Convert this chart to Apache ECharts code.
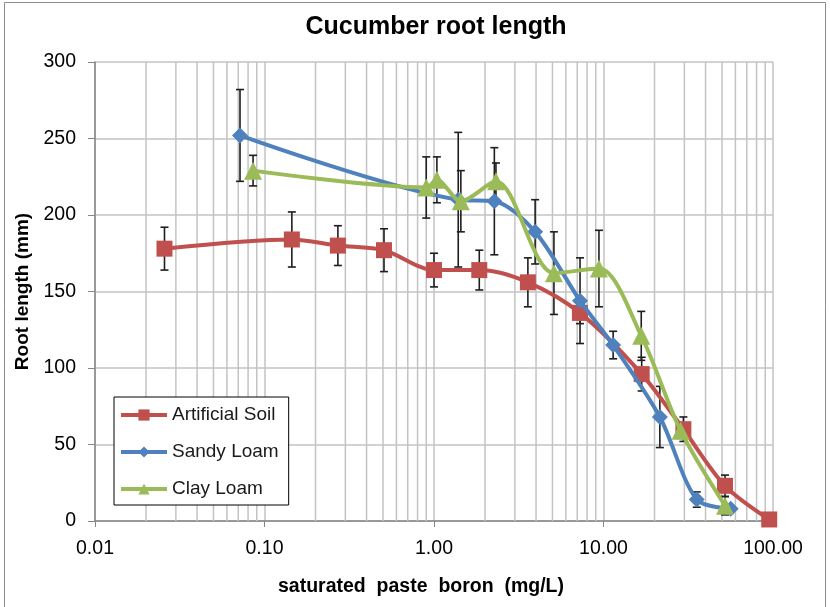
<!DOCTYPE html>
<html>
<head>
<meta charset="utf-8">
<script src="https://cdn.jsdelivr.net/npm/echarts@6/dist/echarts.min.js"></script>
<style>
html,body{margin:0;padding:0;background:#fff;}
#c{width:830px;height:607px;}
</style>
</head>
<body>
<div id="c"></div>
<script>
// ---- data ----
const seriesNames = ['Artificial Soil', 'Sandy Loam', 'Clay Loam'];

const artificialX   = [0.0257, 0.145, 0.271, 0.507, 1.0, 1.85, 3.58, 7.26, 16.8, 29.6, 52.1, 95];
const artificialY   = [178, 184, 180, 177, 164, 164, 156, 136, 96, 60, 23, 1];
const artificialErr = [14, 18, 13, 14, 11, 13, 16, 7, 11, 8, 7, 0];

const sandyX   = [0.0717, 1.39, 2.27, 3.95, 7.27, 11.4, 21.5, 35.5, 56.3];
const sandyY   = [252, 210, 209, 189, 144, 115, 68, 14, 8];
const sandyErr = [30, 44, 35, 21, 28, 9, 20, 5, 0];

const clayX   = [0.0856, 0.90, 1.04, 1.44, 2.32, 5.1, 9.4, 16.7, 28.5, 52.1];
const clayY   = [229, 218, 223, 209, 222, 162, 165, 121, 59, 10];
const clayErr = [10, 20, 15, 20, 12, 27, 25, 16, 5, 6];

const xMin = 0.01, xMax = 100;
const yMin = 0, yMax = 300, yStep = 50;
const minorGridX = [0.02,0.03,0.04,0.05,0.06,0.07,0.08,0.09,
                    0.2,0.3,0.4,0.5,0.6,0.7,0.8,0.9,
                    2,3,4,5,6,7,8,9,
                    20,30,40,50,60,70,80,90];

// ---- styles ----
const FONT = '"Liberation Sans", Arial, sans-serif';
const colors = ['#C0504D', '#4F81BD', '#9BBB59'];
const symbols = ['rect', 'diamond', 'triangle'];
const symbolSizes = [16, 16, 18];
const gridColor = '#C3C3C3';
const axisColor = '#868686';

function zip(xs, ys) { return xs.map((x, i) => [x, ys[i]]); }

function errorSeries(xs, ys, es, z) {
  return {
    type: 'custom', silent: true, z: z,
    data: xs.map((x, i) => [x, ys[i], es[i]]),
    encode: { x: 0, y: 1 },
    renderItem: function (params, api) {
      const x = api.value(0), y = api.value(1), e = api.value(2);
      if (!e) return null;
      const t = api.coord([x, y + e]);
      const b = api.coord([x, y - e]);
      const w = 4;
      const st = { stroke: '#1E1E1E', lineWidth: 1.6 };
      return {
        type: 'group',
        children: [
          { type: 'line', shape: { x1: t[0], y1: t[1], x2: b[0], y2: b[1] }, style: st },
          { type: 'line', shape: { x1: t[0] - w, y1: t[1], x2: t[0] + w, y2: t[1] }, style: st },
          { type: 'line', shape: { x1: b[0] - w, y1: b[1], x2: b[0] + w, y2: b[1] }, style: st }
        ]
      };
    }
  };
}

function lineSeries(i, xs, ys) {
  return {
    name: seriesNames[i], type: 'line', z: 5 + i,
    data: zip(xs, ys),
    smooth: 0.3,
    symbol: symbols[i], symbolSize: symbolSizes[i],
    lineStyle: { color: colors[i], width: 4 },
    itemStyle: { color: colors[i] },
    emphasis: { disabled: true }
  };
}

const chart = echarts.init(document.getElementById('c'));
chart.setOption({
  animation: false,
  backgroundColor: '#fff',
  title: {
    text: 'Cucumber root length',
    left: 431, top: 10, textAlign: 'center',
    textStyle: { fontFamily: FONT, fontSize: 25, fontWeight: 'bold', color: '#000' }
  },
  graphic: [{
    type: 'rect', silent: true, z: -10,
    shape: { x: 4.5, y: 2.5, width: 821, height: 640 },
    style: { fill: null, stroke: '#8C8C8C', lineWidth: 1 }
  }],
  legend: {
    data: seriesNames, orient: 'vertical',
    left: 114, top: 397,
    padding: [8, 10, 6, 5],
    itemGap: 17, itemWidth: 46, itemHeight: 14,
    backgroundColor: '#fff', borderColor: '#000', borderWidth: 1,
    lineStyle: { width: 4 },
    textStyle: { fontFamily: FONT, fontSize: 19, lineHeight: 20, color: '#1a1a1a' }
  },
  grid: { left: 95, right: 57, top: 62, bottom: 86, containLabel: false },
  xAxis: {
    type: 'log', logBase: 10, min: xMin, max: xMax,
    name: 'saturated  paste  boron  (mg/L)', nameLocation: 'middle', nameGap: 56,
    nameTextStyle: { fontFamily: FONT, fontSize: 19.5, fontWeight: 'bold', color: '#000',
                     padding: [0, 26, 0, 0] },
    axisLine: { show: true, lineStyle: { color: axisColor, width: 1.5 } },
    axisTick: { show: true, inside: false, length: 6, lineStyle: { color: axisColor } },
    axisLabel: { fontFamily: FONT, fontSize: 19.5, color: '#000', margin: 18,
                 formatter: v => Number(v).toFixed(2) },
    splitLine: { show: true, lineStyle: { color: gridColor, width: 1.5 } }
  },
  yAxis: {
    type: 'value', min: yMin, max: yMax, interval: yStep,
    name: 'Root length (mm)', nameLocation: 'middle', nameGap: 55,
    nameTextStyle: { fontFamily: FONT, fontSize: 19, fontWeight: 'bold', color: '#000' },
    axisLine: { show: true, lineStyle: { color: axisColor, width: 1.5 } },
    axisTick: { show: true, inside: false, length: 7, lineStyle: { color: axisColor } },
    axisLabel: { fontFamily: FONT, fontSize: 19.5, color: '#000', margin: 19 },
    splitLine: { show: true, lineStyle: { color: gridColor, width: 1.5 } }
  },
  series: [
    {
      type: 'custom', silent: true, z: 1,
      data: minorGridX.map(v => [v, yMin]),
      encode: { x: 0, y: 1 },
      renderItem: function (params, api) {
        const a = api.coord([api.value(0), yMin]);
        const b = api.coord([api.value(0), yMax]);
        return { type: 'line', shape: { x1: a[0], y1: a[1], x2: b[0], y2: b[1] },
                 style: { stroke: gridColor, lineWidth: 1.5 } };
      }
    },
    errorSeries(artificialX, artificialY, artificialErr, 3),
    errorSeries(sandyX, sandyY, sandyErr, 3),
    errorSeries(clayX, clayY, clayErr, 3),
    lineSeries(0, artificialX, artificialY),
    lineSeries(1, sandyX, sandyY),
    lineSeries(2, clayX, clayY)
  ]
});
</script>
</body>
</html>
